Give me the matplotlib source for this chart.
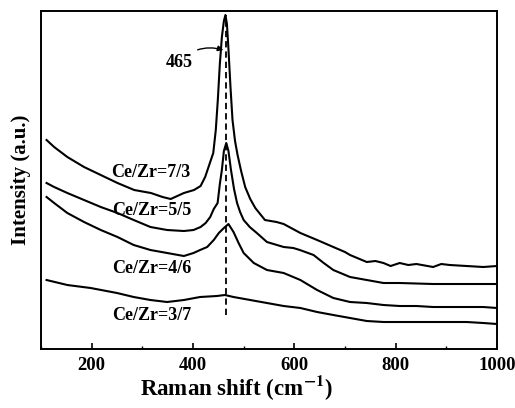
import matplotlib.pyplot as plt
from matplotlib.ticker import MultipleLocator

plt.rcParams['font.family'] = ['Liberation Serif', 'DejaVu Serif']
plt.rcParams['font.weight'] = 'bold'
plt.rcParams['mathtext.fontset'] = 'stix'

# Raman spectra (intensity in arbitrary units)
x_73 = [111, 126, 152, 185, 218, 251, 284, 317, 340, 356, 382, 402, 415, 424, 432, 440, 445, 449, 453,
        457, 461, 464, 467, 470, 474, 478, 483, 488, 495, 503, 513, 523, 542, 565, 579, 612, 645, 677, 700,
        710, 743, 760, 776, 790, 808, 825, 841, 874, 890, 907, 940, 973, 1000]
y_73 = [209, 202, 192, 182, 174, 166, 159, 156, 152, 150, 156, 159, 163, 172, 184, 196, 219, 249, 285,
        312, 328, 334, 325, 300, 262, 229, 208, 194, 178, 162, 150, 141, 129, 127, 125, 116, 109, 102, 97,
        94, 87, 88, 86, 83, 86, 84, 85, 82, 85, 84, 83, 82, 83]

x_55 = [111, 126, 152, 185, 218, 251, 283, 316, 349, 382, 401, 415, 425, 434, 441, 448.6, 453, 457,
        461, 465.7, 470, 475, 481, 487, 493, 500, 512, 526, 546, 579, 598, 611, 638, 658, 677, 710,
        743, 776, 808, 874, 940, 1000]
y_55 = [166, 162, 156, 149, 142, 136, 129, 122, 119, 118, 119, 122, 126, 132, 140, 146, 165, 179,
        198, 206, 198, 179, 160, 146, 137, 129, 122, 116, 107, 102, 101, 99, 94, 86, 79, 72,
        69, 66, 66, 65, 65, 65]

x_46 = [111, 126, 152, 185, 218, 251, 283, 316, 349, 382, 401, 414, 428, 441, 451, 461, 470,
        480, 490, 500, 520, 546, 579, 612, 645, 677, 710, 743, 776, 808, 841, 874, 907, 940, 973, 1000]
y_46 = [152, 146, 136, 127, 119, 112, 104, 99, 96, 93, 96, 99, 102, 109, 116, 121, 125,
        117, 106, 96, 86, 79, 76, 69, 59, 51, 47, 46, 44, 43, 43, 42, 42, 42, 42, 41]

x_37 = [111, 152, 198, 250, 283, 316, 349, 382, 414, 447, 463, 480, 513, 546, 579, 612, 645,
        677, 710, 743, 776, 808, 874, 940, 973, 1000]
y_37 = [69, 64, 61, 56, 52, 49, 47, 49, 52, 53, 54, 52, 49, 46, 43, 41, 37,
        34, 31, 28, 27, 27, 27, 27, 26, 25]

labels = ['Ce/Zr=7/3', 'Ce/Zr=5/5', 'Ce/Zr=4/6', 'Ce/Zr=3/7']
label_x = [316, 319, 319, 319]
label_y = [177, 139, 81, 34]
peak = 465

fig = plt.figure(figsize=(5.15, 4.08), dpi=100)
ax = fig.add_axes([0.0796, 0.1446, 0.8854, 0.8284])

for xs, ys in [(x_73, y_73), (x_55, y_55), (x_46, y_46), (x_37, y_37)]:
    ax.plot(xs, ys, color='black', lw=1.5)

ax.plot([peak, peak], [34, 334], color='black', lw=1.3, ls=(0, (3.5, 2.2)))

for lab, lx, ly in zip(labels, label_x, label_y):
    ax.text(lx, ly, lab, ha='center', va='center', fontsize=13, fontweight='bold')

ax.annotate(str(peak), xy=(460, 299), xytext=(372, 287), ha='center', va='center',
            fontsize=13, fontweight='bold',
            arrowprops=dict(arrowstyle='-|>', color='black', lw=1.0, shrinkA=2, shrinkB=0,
                            connectionstyle='arc3,rad=-0.3', mutation_scale=8))

ax.set_xlim(100, 1000)
ax.set_ylim(0, 338)
ax.xaxis.set_major_locator(MultipleLocator(200))
ax.xaxis.set_minor_locator(MultipleLocator(100))
ax.set_yticks([])
ax.tick_params(axis='x', which='major', direction='in', length=4, width=1.2, labelsize=13.5, pad=6)
ax.tick_params(axis='x', which='minor', direction='in', length=2.5, width=1.0)
for lbl in ax.get_xticklabels():
    lbl.set_fontweight('bold')
for sp in ax.spines.values():
    sp.set_linewidth(1.4)

ax.set_xlabel('Raman shift (cm$^{\\mathbf{-1}}$)', fontsize=16.5, fontweight='bold')
ax.xaxis.label.set_verticalalignment('baseline')
ax.xaxis.set_label_coords(0.428, -0.136)
ax.set_ylabel('Intensity (a.u.)', fontsize=15, fontweight='bold', labelpad=7)

fig.savefig('out.png', dpi=100)
